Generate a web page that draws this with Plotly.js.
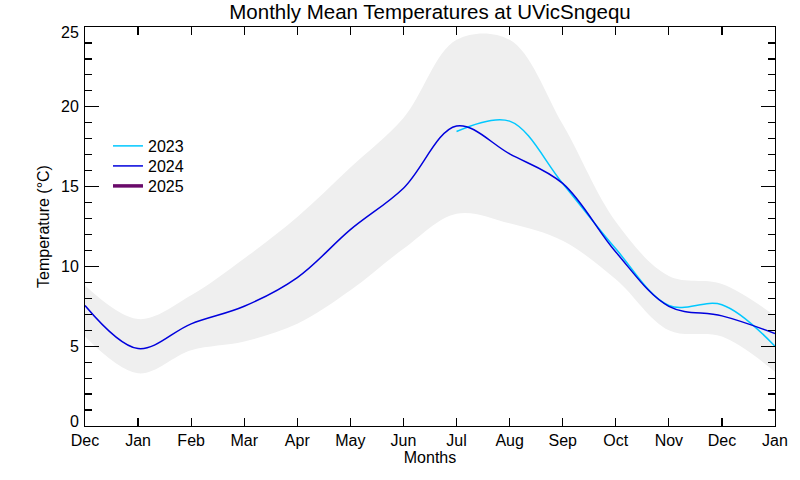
<!DOCTYPE html>
<html>
<head>
<meta charset="utf-8">
<script src="https://cdn.plot.ly/plotly-3.0.1.min.js"></script>
<style>
html,body{margin:0;padding:0;background:#fff;}
#chart{width:800px;height:480px;}
</style>
</head>
<body>
<div id="chart"></div>
<script>
// Month tick labels (Dec .. Jan, 14 positions)
const monthLabels = ["Dec","Jan","Feb","Mar","Apr","May","Jun","Jul","Aug","Sep","Oct","Nov","Dec","Jan"];
const monthPos = [0,1,2,3,4,5,6,7,8,9,10,11,12,13];

// Temperature tick labels
const tempTicks = [0,5,10,15,20,25];

// Climatological range band
const bandUpper = [8.8, 6.7, 8.2, 10.5, 13.1, 16.2, 19.3, 24.2, 24.2, 18.9, 12.8, 9.4, 8.9, 6.9];
const bandLower = [5.6, 3.3, 4.75, 5.3, 6.4, 8.5, 11.1, 13.3, 12.7, 11.6, 9.2, 6.0, 5.6, 3.4];

// 2023 series (Jul .. Jan)
const x2023 = [7, 8, 9, 10, 11, 12, 13];
const y2023 = [18.45, 19.1, 15.2, 11.1, 7.55, 7.6, 5.0];

// 2024 series (Dec .. Jan)
const x2024 = [0,1,2,3,4,5,6,7,8,9,10,11,12,13];
const y2024 = [7.55, 4.85, 6.4, 7.5, 9.3, 12.3, 14.9, 18.8, 17.05, 15.2, 10.9, 7.5, 6.9, 5.8];

// 2025 series (no data yet)
const x2025 = [null];
const y2025 = [null];

const traces = [
  {x: monthPos, y: bandLower, type:'scatter', mode:'lines', line:{width:0, shape:'spline', color:'#efefef'}, showlegend:false, hoverinfo:'skip'},
  {x: monthPos, y: bandUpper, type:'scatter', mode:'lines', fill:'tonexty', fillcolor:'#efefef', line:{width:0, shape:'spline', color:'#efefef'}, showlegend:false, hoverinfo:'skip'},
  {x: x2023, y: y2023, type:'scatter', mode:'lines', name:'2023', legend:'legend', line:{color:'#00c8ff', width:1.5, shape:'spline'}},
  {x: x2024, y: y2024, type:'scatter', mode:'lines', name:'2024', legend:'legend2', line:{color:'#0000dd', width:1.5, shape:'spline'}},
  {x: x2025, y: y2025, type:'scatter', mode:'lines', name:'2025', legend:'legend3', line:{color:'#6a0a6a', width:3.5, shape:'spline'}}
];

const fontFam = 'Liberation Sans, Arial, Helvetica, sans-serif';

function legendAt(yc) {
  return {x:0.0333, y:yc, xanchor:'left', yanchor:'middle', bgcolor:'rgba(0,0,0,0)',
          font:{size:16, family:fontFam, color:'#000'}, itemwidth:30};
}

const yLabelAnn = tempTicks.map(v => ({
  xref:'paper', x:0, xanchor:'right', xshift:-4,
  yref:'y', y:v, yanchor:'middle', yshift: v === 0 ? 5 : (v === 25 ? -5 : 0),
  text:String(v), showarrow:false, font:{size:16, family:fontFam, color:'#000'}
}));

const layout = {
  width: 800, height: 480,
  margin: {l:85, r:25, t:27, b:54},
  paper_bgcolor:'#fff', plot_bgcolor:'#fff',
  font: {family: fontFam, color:'#000', size:16},
  title: {text:'Monthly Mean Temperatures at UVicSngequ', font:{size:20.5, family:fontFam, color:'#000'}, x:0.5375, xanchor:'center', y:0.976, yanchor:'middle'},
  showlegend: true,
  legend: legendAt(0.7018),
  legend2: legendAt(0.6516),
  legend3: legendAt(0.6015),
  annotations: yLabelAnn,
  xaxis: {
    range:[0,13], tickvals: monthPos, ticktext: monthLabels,
    showline:true, linecolor:'#000', linewidth:1.2, mirror:'ticks',
    ticks:'inside', ticklen:8, tickwidth:1.2, tickcolor:'#000',
    showgrid:false, zeroline:false,
    tickfont:{size:16, family:fontFam},
    title:{text:'Months', font:{size:16, family:fontFam}, standoff:1}
  },
  yaxis: {
    range:[0,25], tickvals: tempTicks, showticklabels:false,
    showline:true, linecolor:'#000', linewidth:1.2, mirror:'ticks',
    ticks:'inside', ticklen:14, tickwidth:1.2, tickcolor:'#000',
    minor:{dtick:1, ticks:'inside', ticklen:7, tickwidth:1.2, tickcolor:'#000', showgrid:false},
    showgrid:false, zeroline:false,
    title:{text:'Temperature (°C)', font:{size:16, family:fontFam}, standoff:30}
  }
};

Plotly.newPlot('chart', traces, layout, {staticPlot:true, displayModeBar:false});
</script>
</body>
</html>
